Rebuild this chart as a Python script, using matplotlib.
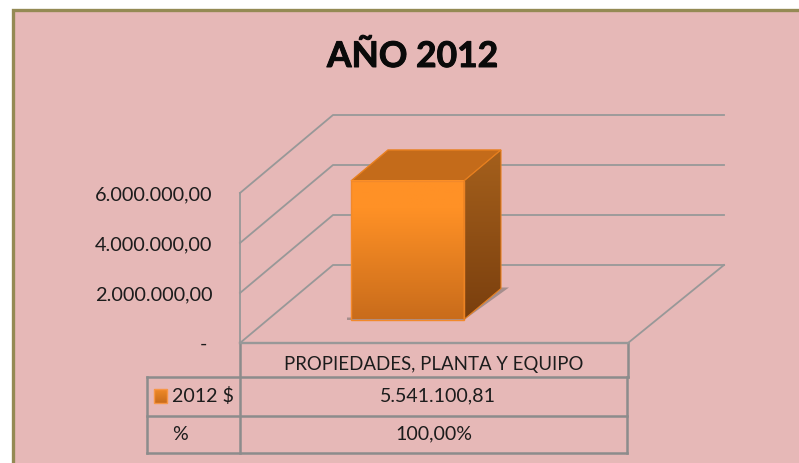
import numpy as np
import matplotlib
matplotlib.use("Agg")
import matplotlib.pyplot as plt
import matplotlib.patheffects as pe
from matplotlib.colors import LinearSegmentedColormap
from matplotlib.patches import Polygon, Rectangle
from matplotlib.ticker import FixedLocator, FixedFormatter

title = "AÑO 2012"
category = "PROPIEDADES, PLANTA Y EQUIPO"
series_name = "2012 $"
row2_name = "%"
values = [5541100.81]
value_labels = ["5.541.100,81"]
pct_labels = ["100,00%"]
y_ticks = [0, 2000000, 4000000, 6000000]
y_tick_labels = ["- ", "2.000.000,00", "4.000.000,00", "6.000.000,00"]

W, H = 799, 463
PINK = "#E6B8B7"
OLIVE = "#948A54"
GRID = "#989898"
FONT = ["Lato", "DejaVu Sans"]
TXT = "#1c1c1c"

fig = plt.figure(figsize=(W / 100, H / 100), dpi=100, facecolor="white")
bg = fig.add_axes([0, 0, 1, 1])
bg.set_xlim(0, W); bg.set_ylim(H, 0); bg.axis("off")
bg.add_patch(Rectangle((12.5, 9.5), W + 10, H + 10, fc=PINK, ec=OLIVE, lw=2.4, zorder=1))

# plot axes: front wall spans px y 343..193, x 240..724
X0, X1, Y0, Y1 = 240, 724, 343, 193
ax = fig.add_axes([X0 / W, (H - Y0) / H, (X1 - X0) / W, (Y0 - Y1) / H], facecolor="none")
ax.set_xlim(X0, X1)
ax.set_ylim(0, 6000000)
PPV = (Y0 - Y1) / 6000000
for s in ax.spines.values():
    s.set_visible(False)
ax.xaxis.set_visible(False)
ax.yaxis.set_major_locator(FixedLocator(y_ticks))
ax.yaxis.set_major_formatter(FixedFormatter(y_tick_labels))
ax.tick_params(axis="y", length=0, pad=20, labelsize=14.3, labelcolor=TXT)
for t in ax.get_yticklabels():
    t.set_fontfamily(FONT)

DX, DY = 93, 78 / PPV   # depth of the box in px / value units
lw = 1.3
top = y_ticks[-1]
ax.plot([X0, X0], [0, top], color=GRID, lw=lw, clip_on=False, zorder=2)
for v in y_ticks:
    ax.plot([X0, X0 + DX, X1], [v, v + DY, v + DY], color=GRID, lw=lw, clip_on=False, zorder=2)
# floor right edge
ax.plot([X1, 628], [DY, 0], color=GRID, lw=lw, clip_on=False, zorder=2)
ax.plot([X0, 628], [0, 0], color=GRID, lw=lw + .4, clip_on=False, zorder=2)

# bar
bx0, bx1 = 351, 464
base = 23.5 / PPV
h = values[0]
ddx, ddy = 37, 31 / PPV
ORANGE = "#E8801F"
# shadow
ax.add_patch(Polygon([(347, base - .5 / PPV), (bx1, base - .5 / PPV), (bx1 + ddx + 8, base + ddy + 1 / PPV),
                      (bx1 + ddx - 6, base + ddy + 1 / PPV), (bx1, base + 2 / PPV), (347, base + 2 / PPV)],
                     fc="#8f8080", ec="none", alpha=.75, clip_on=False, zorder=3))
# top face
ax.add_patch(Polygon([(bx0, base + h), (bx1, base + h), (bx1 + ddx, base + h + ddy), (bx0 + ddx, base + h + ddy)],
                     fc="#C46B1A", ec=ORANGE, lw=1, clip_on=False, zorder=4))
# front gradient
front_cm = LinearSegmentedColormap.from_list("f", [(0, "#FF9126"), (.2, "#FF9126"), (1, "#C96C1B")])
im = ax.imshow(np.linspace(0, 1, 128)[:, None], cmap=front_cm, aspect="auto",
               extent=(bx0, bx1, base, base + h), origin="upper", zorder=4)
im.set_clip_on(False)
ax.add_patch(Rectangle((bx0, base), bx1 - bx0, h, fc="none", ec="#F2892B", lw=1, clip_on=False, zorder=5))
# side gradient
side_cm = LinearSegmentedColormap.from_list("s", ["#A5601C", "#7A3F0E"])
sp = Polygon([(bx1, base), (bx1 + ddx, base + ddy), (bx1 + ddx, base + h + ddy), (bx1, base + h)],
             fc="none", ec=ORANGE, lw=.8, clip_on=False, zorder=5)
ax.add_patch(sp)
im2 = ax.imshow(np.linspace(0, 1, 128)[:, None], cmap=side_cm, aspect="auto",
                extent=(bx1, bx1 + ddx, base, base + h + ddy), origin="upper", zorder=4)
im2.set_clip_path(sp)
im2.set_clip_box(fig.bbox)
ax.set_xlim(X0, X1)
ax.set_ylim(0, 6000000)

# data table (pixel rows, same figure)
tc = "#8c8c8c"
tlw = 1.8
for seg in [((240, 343), (240, 453)), ((628, 343), (628, 377)), ((627, 377), (627, 453)),
            ((147, 377), (147, 453)), ((147, 377), (628, 377)), ((147, 415.5), (627, 415.5)),
            ((147, 453), (627, 453))]:
    bg.plot(*zip(*seg), color=tc, lw=tlw, zorder=6, solid_capstyle="projecting")

def cell(x, y, s, size=14.1, **kw):
    bg.text(x, y, s, ha="center", va="center", fontsize=size, color=TXT, family=FONT, zorder=7, **kw)

cell(433.5, 364.5, category, 13.45)
cell(437.5, 396, value_labels[0])
cell(433.5, 434, pct_labels[0])
cell(203, 396, series_name)
cell(180, 434, row2_name)
bg.imshow(np.linspace(0, 1, 32)[:, None], cmap=LinearSegmentedColormap.from_list("k", ["#F08A28", "#C96C1B"]),
          aspect="auto", extent=(154, 167, 403, 389), zorder=7)
bg.add_patch(Rectangle((154, 389), 13, 14, fc="none", ec="#F79646", lw=1, zorder=8))
bg.set_xlim(0, W); bg.set_ylim(H, 0)

fig.text(412.5 / W, 1 - 57 / H, title, ha="center", va="center", fontsize=25.5, fontweight="bold",
         color="#0a0a0a", family=FONT,
         path_effects=[pe.withStroke(linewidth=.7, foreground="#0a0a0a")])

fig.savefig("out.png", dpi=100)
